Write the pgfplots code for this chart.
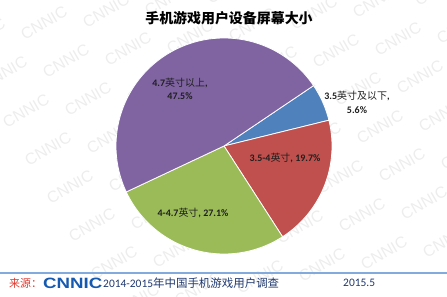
\documentclass[border=0pt]{standalone}
\usepackage{pgfplots}
\usepackage{pgfplotstable}
\pgfplotsset{compat=1.18}
\usepackage{fontspec}
\setmainfont{Carlito}
\newfontfamily\cjk{Noto Sans CJK SC}
\newfontfamily\logo{Liberation Sans}
\definecolor{cBlue}{RGB}{79,129,189}
\definecolor{cRed}{RGB}{192,80,77}
\definecolor{cGreen}{RGB}{155,187,89}
\definecolor{cPurple}{RGB}{128,100,162}
\definecolor{cNavy}{RGB}{31,56,110}
\definecolor{cLogo}{RGB}{22,90,175}
\definecolor{cSrc}{RGB}{220,60,50}
\definecolor{cLine}{RGB}{130,170,220}
\pgfplotstableread{
label value
a 5.6
b 19.7
c 27.1
d 47.5
}\piedata
\begin{document}
\begin{tikzpicture}
\pgfplotstablegetelem{0}{value}\of\piedata \let\vA\pgfplotsretval
\pgfplotstablegetelem{1}{value}\of\piedata \let\vB\pgfplotsretval
\pgfplotstablegetelem{2}{value}\of\piedata \let\vC\pgfplotsretval
\pgfplotstablegetelem{3}{value}\of\piedata \let\vD\pgfplotsretval
\pgfmathsetmacro\tot{\vA+\vB+\vC+\vD}
\pgfmathsetmacro\k{360/\tot}
\pgfmathsetmacro\aA{34}
\pgfmathsetmacro\aB{\aA-\vA*\k}
\pgfmathsetmacro\aC{\aB-\vB*\k}
\pgfmathsetmacro\aD{\aC-\vC*\k}
\pgfmathsetmacro\aE{\aD-\vD*\k}
\path[use as bounding box] (0bp,0bp) rectangle (447bp,297bp);
\begin{scope}[x=1bp,y=1bp]
% watermark
\foreach \i in {0,...,8}{
  \foreach \j in {0,...,8}{
    \pgfmathsetmacro\px{-40+62*\i+22*\j}
    \pgfmathsetmacro\py{300-38*\j+12*\i}
    \node[rotate=30, text=black!7, font=\logo\fontsize{16}{16}\selectfont] at (\px,\py) {CNNIC};
  }
}
\end{scope}
\begin{axis}[at={(224bp,151bp)}, anchor=center, width=216bp, height=216bp,
  scale only axis, hide axis, xmin=-1, xmax=1, ymin=-1, ymax=1, clip=false]
\addplot[fill=cBlue, draw=white, line width=0.8pt, data cs=polar, domain=\aB:\aA, samples=30] {1} -- (axis cs:0,0) -- cycle;
\addplot[fill=cRed, draw=white, line width=0.8pt, data cs=polar, domain=\aC:\aB, samples=60] {1} -- (axis cs:0,0) -- cycle;
\addplot[fill=cGreen, draw=white, line width=0.8pt, data cs=polar, domain=\aD:\aC, samples=80] {1} -- (axis cs:0,0) -- cycle;
\addplot[fill=cPurple, draw=white, line width=0.8pt, data cs=polar, domain=\aE:\aD, samples=120] {1} -- (axis cs:0,0) -- cycle;
\end{axis}
\begin{scope}[x=1bp,y=1bp]
% labels
\node[align=center, text=black!88, font=\fontsize{10}{12.5}\selectfont, inner sep=0] at (180,208) {\textbf{4.7}{\cjk 英寸以上}\textbf{,}\\\textbf{47.5\%}};
\node[align=center, text=black!88, font=\fontsize{10}{14}\selectfont, inner sep=0] at (357,195) {\textbf{3.5}{\cjk 英寸及以下}\textbf{,}\\\textbf{5.6\%}};
\node[text=black!88, font=\fontsize{10}{12}\selectfont, inner sep=0] at (285,139) {\textbf{3.5-4}{\cjk 英寸}\textbf{, 19.7\%}};
\node[text=black!88, font=\fontsize{10}{12}\selectfont, inner sep=0] at (193,84) {\textbf{4-4.7}{\cjk 英寸}\textbf{, 27.1\%}};
% title
\node[font=\cjk\bfseries\fontsize{14}{14}\selectfont, inner sep=0] at (229,279) {手机游戏用户设备屏幕大小};
% footer
\draw[cLine, line width=1.3pt] (0,24) -- (447,24);
\node[anchor=west, text=cSrc, font=\cjk\fontsize{11}{11}\selectfont, inner sep=0] at (9,14) {来源：};
\node[anchor=west, text=cLogo, font=\logo\bfseries\fontsize{15}{15}\selectfont, inner sep=0, xscale=1.25] at (43,14) {CNNIC};
\node[anchor=west, text=cNavy, font=\fontsize{11.5}{11.5}\selectfont, inner sep=0] at (103,14) {2014-2015{\cjk 年中国手机游戏用户调查}};
\node[anchor=west, text=cNavy, font=\fontsize{11.5}{11.5}\selectfont, inner sep=0] at (343,14) {2015.5};
\end{scope}
\end{tikzpicture}
\end{document}
